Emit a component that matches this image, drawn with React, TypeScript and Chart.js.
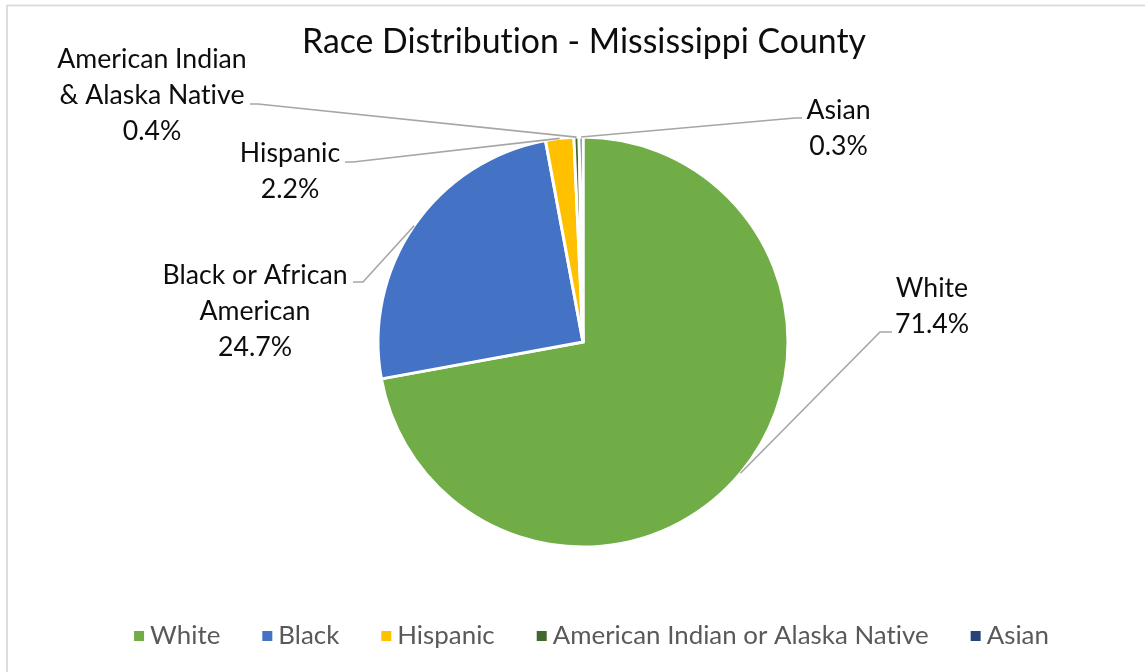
import React, { useEffect, useRef } from "react";
import { Chart, registerables } from "chart.js";

Chart.register(...registerables);

// ---- data ----
const categories = ["White", "Black", "Hispanic", "American Indian or Alaska Native", "Asian"];
const sliceLabels = [
  ["White"],
  ["Black or African", "American"],
  ["Hispanic"],
  ["American Indian", "& Alaska Native"],
  ["Asian"],
];
const values = [71.4, 24.7, 2.2, 0.4, 0.3];
const colors = ["#70AD47", "#4472C4", "#FFC000", "#43682B", "#264478"];
const titleText = "Race Distribution - Mississippi County";

// ---- layout / style ----
const W = 1145;
const H = 672;
const FONT = "Lato";
const LINE_H = 36;
// label placement: text centre x, first baseline, elbow point, horizontal end x
const labelLayout = [
  { cx: 932, base: 297, ex: 880, ey: 332, hx: 892 },
  { cx: 255, base: 284, ex: 363, ey: 282, hx: 353 },
  { cx: 290, base: 162, ex: 353, ey: 162, hx: 345 },
  { cx: 152, base: 68, ex: 258, ey: 104, hx: 250 },
  { cx: 838.5, base: 119, ex: 795, ey: 118, hx: 802 },
];

function noLig(ctx: any) {
  // a tiny non-zero letter spacing switches off the "ti" ligature of the font
  if ("letterSpacing" in ctx) ctx.letterSpacing = "0.01px";
}

function fitSize(ctx: CanvasRenderingContext2D, text: string, target: number) {
  ctx.font = `100px ${FONT}`;
  noLig(ctx);
  const w = ctx.measureText(text).width;
  return (100 * target) / w;
}

const decorPlugin = {
  id: "decor",
  beforeDraw(chart: any) {
    const ctx: CanvasRenderingContext2D = chart.ctx;
    ctx.save();
    ctx.fillStyle = "#ffffff";
    ctx.fillRect(0, 0, W, H);
    ctx.strokeStyle = "#d9d9d9";
    ctx.lineWidth = 1.75;
    ctx.strokeRect(7, 5.5, 2000, 2000);
    ctx.restore();
  },
  afterDraw(chart: any) {
    const ctx: CanvasRenderingContext2D = chart.ctx;
    ctx.save();
    noLig(ctx);

    // title
    const titleSize = fitSize(ctx, titleText, 564);
    ctx.font = `${titleSize}px ${FONT}`;
    noLig(ctx);
    ctx.fillStyle = "#0d0d0d";
    ctx.textAlign = "center";
    ctx.textBaseline = "alphabetic";
    ctx.fillText(titleText, 584, 53);

    // data labels with leader lines
    const meta = chart.getDatasetMeta(0);
    const labelSize = fitSize(ctx, "Black or African", 185);
    meta.data.forEach((arc: any, i: number) => {
      const p = arc.getProps(["x", "y", "startAngle", "endAngle", "outerRadius"], true);
      const mid = (p.startAngle + p.endAngle) / 2;
      const sx = p.x + Math.cos(mid) * p.outerRadius;
      const sy = p.y + Math.sin(mid) * p.outerRadius;
      const L = labelLayout[i];
      ctx.strokeStyle = "#a6a6a6";
      ctx.lineWidth = 1.6;
      ctx.beginPath();
      ctx.moveTo(sx, sy);
      ctx.lineTo(L.ex, L.ey);
      ctx.lineTo(L.hx, L.ey);
      ctx.stroke();

      const lines = [...sliceLabels[i], `${values[i].toFixed(1)}%`];
      ctx.font = `${labelSize}px ${FONT}`;
      noLig(ctx);
      ctx.fillStyle = "#0d0d0d";
      ctx.textAlign = "center";
      lines.forEach((t, k) => ctx.fillText(t, L.cx, L.base + k * LINE_H));
    });

    // legend
    const legSize = fitSize(ctx, "American Indian or Alaska Native", 376);
    ctx.font = `${legSize}px ${FONT}`;
    noLig(ctx);
    const box = 10;
    const gapBox = 6;
    const gapItem = 42;
    const widths = categories.map((c) => ctx.measureText(c).width);
    const total =
      widths.reduce((a, w) => a + box + gapBox + w, 0) + gapItem * (categories.length - 1);
    let x = 591.5 - total / 2;
    const ly = 636;
    ctx.textAlign = "left";
    categories.forEach((c, i) => {
      ctx.fillStyle = colors[i];
      ctx.fillRect(x, ly - box / 2, box, box);
      ctx.fillStyle = "#595959";
      ctx.fillText(c, x + box + gapBox, ly + 8);
      x += box + gapBox + widths[i] + gapItem;
    });

    ctx.restore();
  },
};

export default function App() {
  const ref = useRef<HTMLCanvasElement | null>(null);
  useEffect(() => {
    if (!ref.current) return;
    const cx = 583;
    const cy = 342;
    const half = 250;
    const chart = new Chart(ref.current, {
      type: "pie",
      data: {
        labels: categories,
        datasets: [
          {
            data: values,
            backgroundColor: colors,
            borderColor: "#ffffff",
            borderWidth: 3,
            borderJoinStyle: "miter",
            radius: 205,
            offset: 0,
            hoverOffset: 0,
          } as any,
        ],
      },
      options: {
        responsive: false,
        animation: false,
        events: [],
        layout: {
          padding: {
            left: cx - half,
            right: W - (cx + half),
            top: cy - half,
            bottom: H - (cy + half),
          },
        },
        plugins: {
          legend: { display: false },
          title: { display: false },
          tooltip: { enabled: false },
        },
      },
      plugins: [decorPlugin],
    });
    return () => chart.destroy();
  }, []);
  return (
    <div style={{ position: "fixed", left: 0, top: 0, width: W, height: H, background: "#fff" }}>
      <canvas ref={ref} width={W} height={H} style={{ width: W, height: H, display: "block" }} />
    </div>
  );
}
